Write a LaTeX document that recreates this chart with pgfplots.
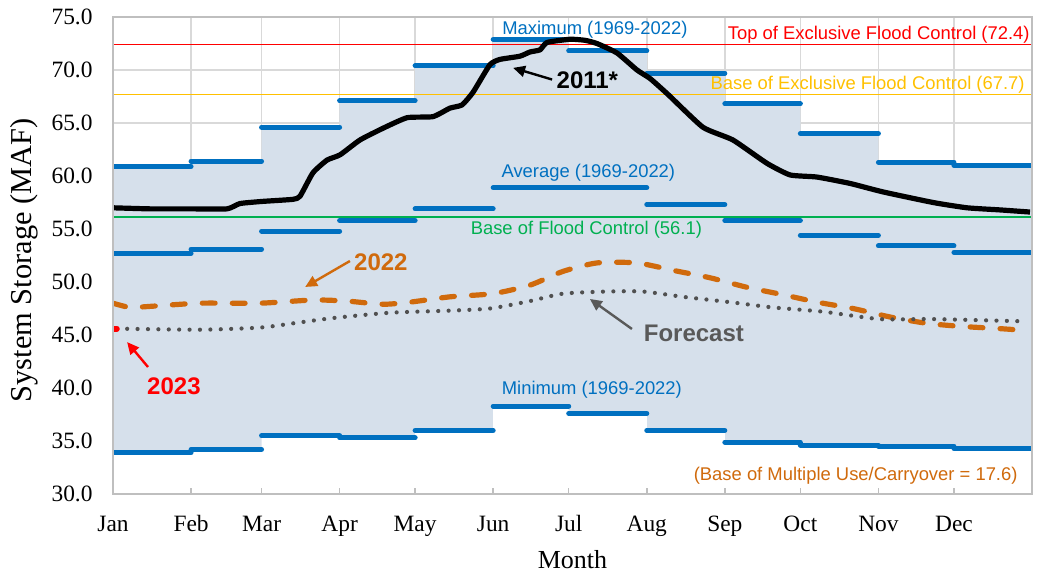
\documentclass[border=0pt]{standalone}
\usepackage{fontspec}
\setmainfont{Liberation Serif}
\setsansfont{Liberation Sans}
\usepackage{pgfplots}
\pgfplotsset{compat=1.18}
\usetikzlibrary{arrows.meta}

\definecolor{fillc}{RGB}{214,224,235}
\definecolor{bluec}{RGB}{0,112,192}
\definecolor{orangec}{RGB}{208,106,12}
\definecolor{goldc}{RGB}{255,192,0}
\definecolor{floodgreen}{RGB}{0,176,80}
\definecolor{gridc}{RGB}{217,217,217}
\definecolor{axc}{RGB}{191,191,191}
\definecolor{fcgray}{RGB}{80,80,80}
\definecolor{fctext}{RGB}{89,89,89}

\pgfplotsset{
  layers/mylayers/.define layer set={axis background,axis grid,main,axis ticks,axis lines,axis tick labels,axis descriptions,axis foreground}{
    grid style={/pgfplots/on layer=axis grid},
    tick style={/pgfplots/on layer=axis ticks},
    axis line style={/pgfplots/on layer=axis lines},
    label style={/pgfplots/on layer=axis descriptions},
    legend style={/pgfplots/on layer=axis descriptions},
    title style={/pgfplots/on layer=axis descriptions},
    colorbar style={/pgfplots/on layer=axis descriptions},
    ticklabel style={/pgfplots/on layer=axis tick labels},
    axis background@ style={/pgfplots/on layer=axis background},
    3d box foreground style={/pgfplots/on layer=axis foreground},
  },
}

\begin{document}
\begin{tikzpicture}
\begin{axis}[
  name=ax,
  set layers=mylayers,
  width=459.5pt, height=238.5pt, scale only axis,
  xmin=0, xmax=365, ymin=30, ymax=75,
  xtick={0,31,59,90,120,151,181,212,243,273,304,334,365},
  xticklabels={Jan,Feb,Mar,Apr,May,Jun,Jul,Aug,Sep,Oct,Nov,Dec,},
  ytick={30,35,...,75},
  grid=major,
  grid style={draw=gridc, line width=0.75pt},
  axis line style={draw=axc, line width=0.75pt},
  xtick pos=bottom, ytick pos=left,
  tick align=inside,
  major tick length=3pt,
  xtick style={draw=axc, line width=0.75pt},
  ytick style={draw=none},
  /pgf/number format/assume math mode=true,
  yticklabel style={/pgf/number format/fixed, /pgf/number format/fixed zerofill, /pgf/number format/precision=1, font=\fontsize{11.7}{13}\selectfont, xshift=-6.7pt},
  xticklabel style={font=\fontsize{11.7}{13}\selectfont, anchor=base, yshift=-18.7pt},
  xlabel={Month},
  xlabel style={font=\fontsize{13}{15}\selectfont, at={(axis description cs:0.5,0)}, anchor=base, yshift=-37.5pt},
  ylabel={System Storage (MAF)},
  ylabel style={font=\fontsize{15.2}{17}\selectfont, at={(axis description cs:-0.097,0.49)}, anchor=center},
  clip=true,
]
% range fill (max) and white below min
\addplot[const plot mark left, fill=fillc, draw=none] coordinates {
 (0,60.9)(31,61.4)(59,64.6)(90,67.1)(120,70.4)(151,72.9)(181,71.8)(212,69.7)(243,66.8)(273,64.0)(304,61.3)(334,61.0)(365,61.0)} \closedcycle;
\addplot[const plot mark left, fill=white, draw=none] coordinates {
 (0,33.9)(31,34.2)(59,35.5)(90,35.3)(120,36.0)(151,38.3)(181,37.6)(212,36.0)(243,34.9)(273,34.6)(304,34.5)(334,34.3)(365,34.3)} \closedcycle;

% reference lines
\addplot[draw=red, line width=0.8pt] coordinates {(0,72.4)(365,72.4)};
\addplot[draw=goldc, line width=0.8pt] coordinates {(0,67.7)(365,67.7)};
\addplot[draw=floodgreen, line width=0.9pt] coordinates {(0,56.1)(365,56.1)};

% max / average / min steps
\addplot[jump mark left, draw=bluec, line width=2.5pt, line cap=round] coordinates {
 (0,60.9)(31,61.4)(59,64.6)(90,67.1)(120,70.4)(151,72.9)(181,71.8)(212,69.7)(243,66.8)(273,64.0)(304,61.3)(334,61.0)(365,61.0)};
\addplot[jump mark left, draw=bluec, line width=2.5pt, line cap=round] coordinates {
 (0,52.7)(31,53.1)(59,54.8)(90,55.8)(120,56.9)(151,58.9)(181,58.9)(212,57.3)(243,55.8)(273,54.4)(304,53.4)(334,52.8)(365,52.8)};
\addplot[jump mark left, draw=bluec, line width=2.5pt, line cap=round] coordinates {
 (0,33.9)(31,34.2)(59,35.5)(90,35.3)(120,36.0)(151,38.3)(181,37.6)(212,36.0)(243,34.9)(273,34.6)(304,34.5)(334,34.3)(365,34.3)};

% 2022
\addplot[draw=orangec, line width=2.6pt, line cap=round, dash pattern=on 6.4pt off 8.6pt, smooth, tension=0.4] coordinates {
 (0,48.0)(6.8,47.6)(14.7,47.7)(34.6,48.0)(58.4,48.0)(79.4,48.3)(92.9,48.2)(107.2,47.9)(118,48.1)(133.8,48.6)(150.9,48.9)(165.6,49.7)(178.7,51.0)(192.2,51.8)(208.1,51.8)(222.4,51.1)(237.1,50.4)(251.8,49.5)(266.1,48.8)(279.6,48.1)(293.9,47.5)(308.6,46.7)(323.3,46.1)(337.6,45.8)(352.3,45.6)(364.2,45.4)};

% Forecast
\addplot[draw=fcgray, line width=2.1pt, line cap=round, dash pattern=on 0pt off 5.2pt, smooth, tension=0.4] coordinates {
 (1.5,45.6)(34.6,45.5)(58.4,45.7)(71.5,46.1)(87.4,46.6)(110,47.1)(133.8,47.3)(149.7,47.5)(165.6,48.2)(178.7,48.9)(196.2,49.1)(210.5,49.1)(226.4,48.6)(245,48.1)(262,47.6)(282,47.2)(304.6,46.5)(325.7,46.5)(360.2,46.3)};

% 2011
\addplot[draw=black, line width=2.6pt, line join=round, smooth, tension=0.3] coordinates {
 (0,57.0)(14.7,56.9)(30.6,56.9)(45.3,56.9)(50.4,57.4)(59.2,57.6)(71.5,57.8)(74.3,58.1)(79.4,60.3)(85,61.5)(90.2,62.0)(98.1,63.4)(107.2,64.5)(116.8,65.5)(127.1,65.6)(133.8,66.4)(138.6,66.7)(143,67.9)(149.7,70.5)(153.7,71.0)(161.6,71.3)(165.6,71.7)(169.6,71.9)(172.4,72.6)(181.5,72.9)(187.5,72.8)(192.2,72.5)(200.2,71.6)(208.1,70.0)(213.3,69.2)(220.4,67.7)(234.3,64.6)(246.2,63.4)(259.7,61.2)(268.9,60.1)(279.6,59.9)(292.7,59.3)(305.8,58.5)(325.7,57.5)(339.2,57.0)(352.3,56.8)(364.2,56.6)};

% 2023 point
\addplot[draw=red, line width=3pt, line cap=round] coordinates {(0,45.6)(1.5,45.6)};

% annotations
\node[font=\sffamily\fontsize{9.2}{11}\selectfont, text=bluec] at (axis cs:191.4,73.8) {Maximum (1969-2022)};
\node[font=\sffamily\fontsize{9.2}{11}\selectfont, text=bluec] at (axis cs:188.8,60.33) {Average (1969-2022)};
\node[font=\sffamily\fontsize{9.2}{11}\selectfont, text=bluec] at (axis cs:190.2,39.86) {Minimum (1969-2022)};
\node[font=\sffamily\fontsize{9.2}{11}\selectfont, text=red, anchor=east, inner sep=0pt] at (axis cs:364.2,73.35) {Top of Exclusive Flood Control (72.4)};
\node[font=\sffamily\fontsize{9.2}{11}\selectfont, text=goldc, anchor=east, inner sep=0pt] at (axis cs:362.2,68.63) {Base of Exclusive Flood Control (67.7)};
\node[font=\sffamily\fontsize{9.2}{11}\selectfont, text=floodgreen] at (axis cs:188.0,54.9) {Base of Flood Control (56.1)};
\node[font=\sffamily\fontsize{9.2}{11}\selectfont, text=orangec, anchor=east, inner sep=0pt] at (axis cs:359.4,31.75) {(Base of Multiple Use/Carryover = 17.6)};

\node[font=\sffamily\bfseries\fontsize{12}{14}\selectfont, text=black] at (axis cs:188.4,69.06) {2011*};
\draw[black, line width=1.2pt, -{Triangle[length=6pt,width=5.5pt]}] (axis cs:174.4,69.1) -- (axis cs:158.9,70.2);

\node[font=\sffamily\bfseries\fontsize{12}{14}\selectfont, text=orangec] at (axis cs:106.4,51.9) {2022};
\draw[orangec, line width=1.2pt, -{Triangle[length=6pt,width=5.5pt]}] (axis cs:94.1,51.98) -- (axis cs:76.3,49.53);

\node[font=\sffamily\bfseries\fontsize{12}{14}\selectfont, text=red] at (axis cs:24.2,40.19) {2023};
\draw[red, line width=1.2pt, -{Triangle[length=6pt,width=5.5pt]}] (axis cs:13.9,41.98) -- (axis cs:5.6,44.33);

\node[font=\sffamily\bfseries\fontsize{12}{14}\selectfont, text=fctext] at (axis cs:230.7,45.14) {Forecast};
\draw[fctext, line width=1.2pt, -{Triangle[length=6pt,width=5.5pt]}] (axis cs:206.1,45.57) -- (axis cs:189.4,48.4);
\end{axis}
\pgfresetboundingbox
\path ([shift={(-56.5pt,-39.5pt)}]ax.south west) rectangle ([shift={(4pt,8.5pt)}]ax.north east);
\end{tikzpicture}
\end{document}
